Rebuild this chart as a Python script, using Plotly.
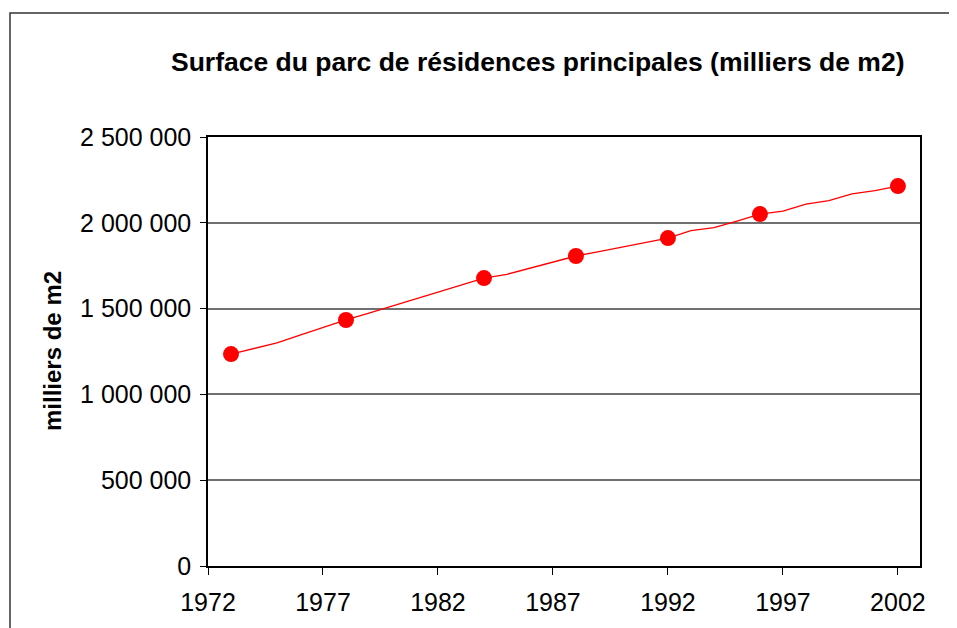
import plotly.graph_objects as go

# Yearly series (line)
years = list(range(1973, 2003))
surface = [1235000, 1268000, 1300000, 1345000, 1390000, 1433600,
           1474000, 1515000, 1556000, 1597000, 1637000, 1678000,
           1700000, 1735000, 1770000, 1806500,
           1832000, 1858000, 1884000, 1911000,
           1955000, 1972000, 2010000, 2051000,
           2068000, 2109000, 2129000, 2168000, 2187000, 2214000]

# Survey years (markers)
survey_years = [1973, 1978, 1984, 1988, 1992, 1996, 2002]
survey_values = [1235000, 1433600, 1678000, 1806500, 1911000, 2051000, 2214000]

x_ticks = [1972, 1977, 1982, 1987, 1992, 1997, 2002]
y_ticks = [0, 500000, 1000000, 1500000, 2000000, 2500000]

title_text = "Surface du parc de résidences principales (milliers de m2)"
y_title = "milliers de m2"

OFF = 8  # default page body margin
W, H = 957 - OFF, 628 - OFF
L, R, T, B = 208 - OFF, 920 - OFF, 137 - OFF, 566 - OFF

fig = go.Figure()
fig.add_trace(go.Scatter(x=years, y=surface, mode="lines",
                         line=dict(color="#ff0000", width=1.3),
                         showlegend=False, hoverinfo="skip"))
fig.add_trace(go.Scatter(x=survey_years, y=survey_values, mode="markers",
                         marker=dict(color="#ff0000", size=16),
                         showlegend=False))

pw, ph = R - L, B - T
def px(x):
    return (x - OFF - L) / pw
def py(y):
    return (B - (y - OFF)) / ph

fig.update_layout(
    width=W, height=H,
    margin=dict(l=L, r=W - R, t=T, b=H - B, pad=0),
    paper_bgcolor="white", plot_bgcolor="white",
    separators=", ",
    font=dict(family="Liberation Sans, Arial, sans-serif", color="black"),
    xaxis=dict(range=[1972, 2002.96], tickmode="array", tickvals=x_ticks,
               ticks="outside", ticklen=7, tickcolor="black", tickwidth=1,
               showline=True, linecolor="black", linewidth=1.5, mirror=True,
               showgrid=False, zeroline=False,
               tickfont=dict(size=25, color="black"),
               ticklabelstandoff=6),
    yaxis=dict(range=[0, 2500000], tickmode="array", tickvals=y_ticks,
               tickformat=",d",
               ticks="outside", ticklen=6, tickcolor="black", tickwidth=1,
               showline=True, linecolor="black", linewidth=1.5, mirror=True,
               showgrid=True, gridcolor="#707070", gridwidth=1.6,
               zeroline=False,
               tickfont=dict(size=25, color="black"),
               ticklabelstandoff=4),
    shapes=[dict(type="rect", xref="paper", yref="paper",
                 x0=px(10), x1=px(965), y0=py(640), y1=py(13),
                 line=dict(color="#333333", width=1.5), fillcolor="rgba(0,0,0,0)",
                 layer="below")],
    annotations=[
        dict(text="<b>" + title_text + "</b>", xref="paper", yref="paper",
             x=px(537), y=py(62), xanchor="center", yanchor="middle",
             showarrow=False, font=dict(size=26.5, color="black")),
        dict(text="<b>" + y_title + "</b>", xref="paper", yref="paper",
             x=px(52), y=py(351), xanchor="center", yanchor="middle",
             textangle=-90, showarrow=False, font=dict(size=24, color="black")),
    ],
)

fig.write_html("out.html")
